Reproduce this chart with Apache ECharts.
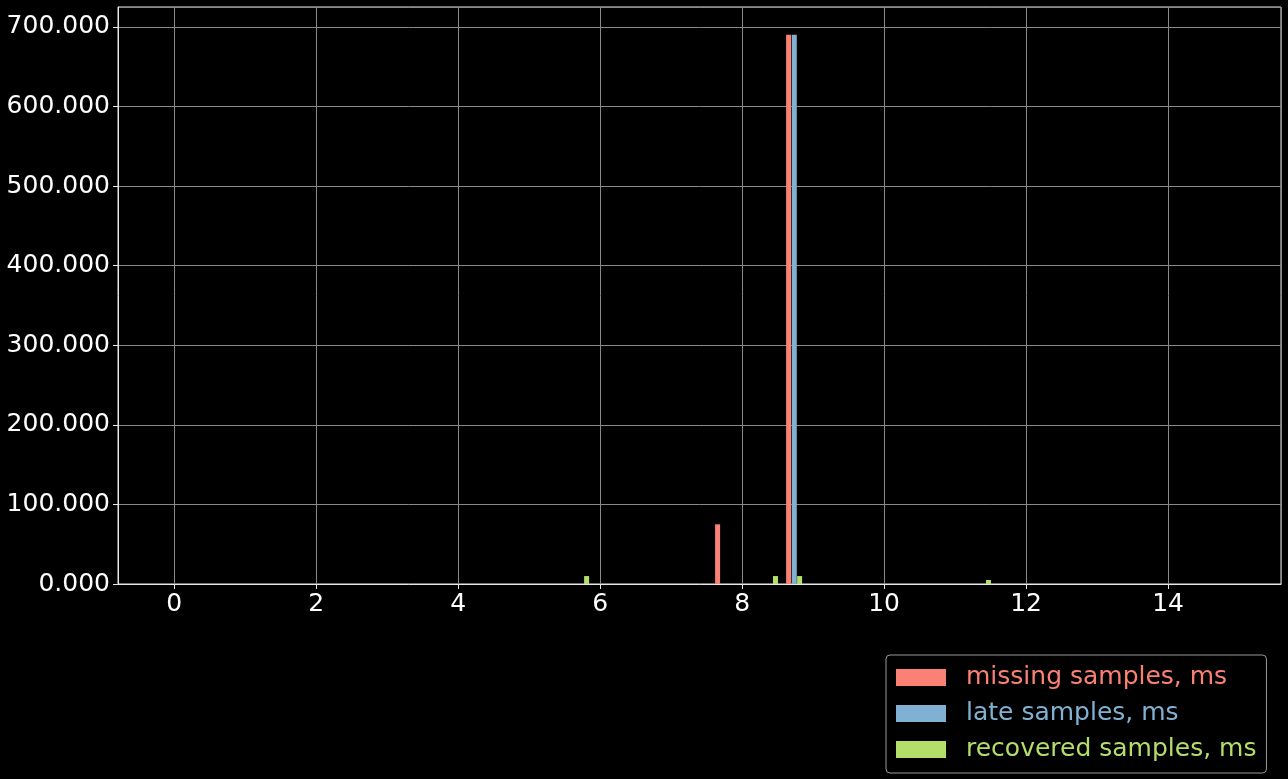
<!DOCTYPE html>
<html><head><meta charset="utf-8">
<script src="https://cdn.jsdelivr.net/npm/echarts@6/dist/echarts.min.js"></script>
<style>html,body{margin:0;padding:0;background:#000;}#c{width:1288px;height:779px;}</style>
</head><body><div id="c"></div>
<script>
// bar positions (ms) and counts
const missingX = [7.655, 8.655];
const missingY = [75, 690];
const lateX = [8.735];
const lateY = [690];
const recoveredX = [5.81, 8.47, 8.81, 11.47];
const recoveredY = [10, 10, 10, 5];
const seriesNames = ['missing samples, ms', 'late samples, ms', 'recovered samples, ms'];
const colors = ['#fa8174', '#81b1d2', '#b3de69'];

const zip = (xs, ys) => xs.map((x, i) => [x, ys[i]]);
const font = 'DejaVu Sans';
const gridColor = '#8a8a8a';
const spineColor = '#e6e6e6';
const chart = echarts.init(document.getElementById('c'));
chart.setOption({
  backgroundColor: '#000',
  animation: false,
  grid: {left: 118, top: 7, right: 7, bottom: 195, show: true, borderColor: spineColor, borderWidth: 1, containLabel: false},
  xAxis: {
    type: 'value', min: -0.79, max: 15.59, splitNumber: 8,
    axisLine: {show: true, onZero: false, lineStyle: {color: spineColor, width: 1}},
    axisTick: {show: true, length: 5, lineStyle: {color: spineColor}},
    axisLabel: {color: '#fff', fontSize: 25, fontFamily: font, margin: 8, showMinLabel: false, showMaxLabel: false},
    splitLine: {show: true, lineStyle: {color: gridColor, width: 1}}
  },
  yAxis: {
    type: 'value', min: 0, max: 725, interval: 100,
    axisLine: {show: true, onZero: false, lineStyle: {color: spineColor, width: 1}},
    axisTick: {show: true, length: 5, lineStyle: {color: spineColor}},
    axisLabel: {color: '#fff', fontSize: 25, fontFamily: font, margin: 8, showMaxLabel: false,
      formatter: v => v.toFixed(3)},
    splitLine: {show: true, lineStyle: {color: gridColor, width: 1}}
  },
  legend: {
    orient: 'vertical', left: 886, top: 655,
    padding: [10, 10, 11, 10],
    itemWidth: 50, itemHeight: 17, itemGap: 11,
    borderColor: '#9a9a9a', borderWidth: 1, borderRadius: 4, backgroundColor: '#000',
    icon: 'rect',
    textStyle: {fontSize: 25, fontFamily: font, padding: [0, 0, 0, 15]},
    data: seriesNames.map((n, i) => ({name: n, textStyle: {color: colors[i]}}))
  },
  series: [
    {name: seriesNames[0], type: 'bar', data: zip(missingX, missingY), barWidth: 5, barGap: '-100%', itemStyle: {color: colors[0]}},
    {name: seriesNames[1], type: 'bar', data: zip(lateX, lateY), barWidth: 5, barGap: '-100%', itemStyle: {color: colors[1]}},
    {name: seriesNames[2], type: 'bar', data: zip(recoveredX, recoveredY), barWidth: 5, barGap: '-100%', itemStyle: {color: colors[2]}}
  ]
});
</script></body></html>
